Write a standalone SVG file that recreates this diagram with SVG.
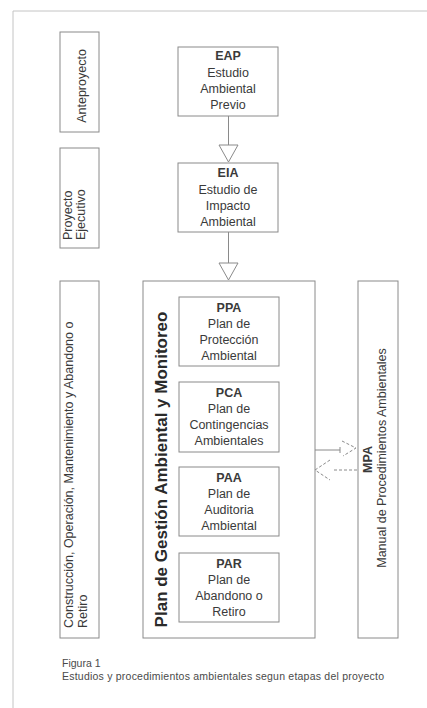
<svg xmlns="http://www.w3.org/2000/svg" width="427" height="708" viewBox="0 0 427 708">
<style>
.page{fill:none;stroke:#c4c4c4;stroke-width:1}
.box{fill:none;stroke:#8a8a8a;stroke-width:1}
.t{font-family:"Liberation Sans",Arial,sans-serif;font-size:12.5px;fill:#3a3a3a;text-anchor:middle}
.r{font-family:"Liberation Sans",Arial,sans-serif;font-size:12.5px;fill:#3a3a3a}
.b{font-weight:bold}
.big{font-family:"Liberation Sans",Arial,sans-serif;font-size:17px;font-weight:bold;fill:#2a2a2a;text-anchor:middle}
.cap{font-family:"Liberation Sans",Arial,sans-serif;font-size:10.5px;fill:#4a4a4a}
.conn{fill:none;stroke:#8a8a8a;stroke-width:1}
.head{fill:#fff;stroke:#8a8a8a;stroke-width:1}
.dash{stroke-dasharray:3 2}
</style>
<rect width="427" height="708" fill="#fff"/>
<path class="page" d="M13,708 V11 H427"/>

<g id="stage-anteproyecto">
<rect class="box" x="60" y="32" width="39" height="100"/>
<text class="r" text-anchor="middle" transform="translate(86,86) rotate(-90)">Anteproyecto</text>
</g>
<g id="stage-ejecutivo">
<rect class="box" x="60" y="148" width="39" height="100"/>
<text class="r" transform="translate(72,240) rotate(-90)"><tspan x="0" y="0">Proyecto</tspan><tspan x="0" dy="13">Ejecutivo</tspan></text>
</g>
<g id="stage-construccion">
<rect class="box" x="60" y="281" width="39" height="357"/>
<text class="r" transform="translate(73,628) rotate(-90)"><tspan x="0" y="0">Construcción, Operación, Mantenimiento y Abandono o</tspan><tspan x="0" dy="14">Retiro</tspan></text>
</g>

<g id="EAP">
<rect class="box" x="178" y="47" width="100" height="69"/>
<text class="t b" x="228" y="60">EAP</text>
<text class="t" x="228" y="77">Estudio</text>
<text class="t" x="228" y="93">Ambiental</text>
<text class="t" x="228" y="109">Previo</text>
</g>
<g id="EIA">
<rect class="box" x="178" y="163" width="100" height="69"/>
<text class="t b" x="228" y="177">EIA</text>
<text class="t" x="228" y="194">Estudio de</text>
<text class="t" x="228" y="210">Impacto</text>
<text class="t" x="228" y="226">Ambiental</text>
</g>

<g id="PGAM">
<rect class="box" x="143" y="281" width="172" height="357"/>
<text class="big" transform="translate(167,469.5) rotate(-90)">Plan de Gestión Ambiental y Monitoreo</text>
</g>
<g id="PPA">
<rect class="box" x="179" y="297" width="100" height="69"/>
<text class="t b" x="229" y="312">PPA</text>
<text class="t" x="229" y="328">Plan de</text>
<text class="t" x="229" y="344">Protección</text>
<text class="t" x="229" y="360">Ambiental</text>
</g>
<g id="PCA">
<rect class="box" x="179" y="382" width="100" height="70"/>
<text class="t b" x="229" y="397">PCA</text>
<text class="t" x="229" y="413">Plan de</text>
<text class="t" x="229" y="429">Contingencias</text>
<text class="t" x="229" y="445">Ambientales</text>
</g>
<g id="PAA">
<rect class="box" x="179" y="467" width="100" height="69"/>
<text class="t b" x="229" y="482">PAA</text>
<text class="t" x="229" y="498">Plan de</text>
<text class="t" x="229" y="514">Auditoria</text>
<text class="t" x="229" y="530">Ambiental</text>
</g>
<g id="PAR">
<rect class="box" x="179" y="553" width="100" height="69"/>
<text class="t b" x="229" y="568">PAR</text>
<text class="t" x="229" y="584">Plan de</text>
<text class="t" x="229" y="600">Abandono o</text>
<text class="t" x="229" y="616">Retiro</text>
</g>

<g id="MPA">
<rect class="box" x="358" y="281" width="40" height="357"/>
<text class="t b" transform="translate(372,459.5) rotate(-90)">MPA</text>
<text class="r" text-anchor="middle" transform="translate(386,458) rotate(-90)">Manual de Procedimientos Ambientales</text>
</g>

<g id="connectors">
<line class="conn" x1="228.5" y1="116" x2="228.5" y2="145"/>
<polygon class="head" points="219,145 238,145 228.5,162"/>
<line class="conn" x1="228.5" y1="232" x2="228.5" y2="263"/>
<polygon class="head" points="219,263 238,263 228.5,280"/>
<line class="conn" x1="315" y1="450" x2="340" y2="450"/>
<line class="conn" x1="340" y1="447" x2="340" y2="453"/>
<polyline class="conn dash" points="342,441 356,448 343,456"/>
<line class="conn dash" x1="357" y1="470" x2="333" y2="470"/>
<polyline class="conn dash" points="330,460 315,470 330,480"/>
</g>

<g id="caption">
<text class="cap" x="62" y="667">Figura 1</text>
<text class="cap" x="62" y="680" textLength="322" lengthAdjust="spacing">Estudios y procedimientos ambientales segun etapas del proyecto</text>
</g>
</svg>
